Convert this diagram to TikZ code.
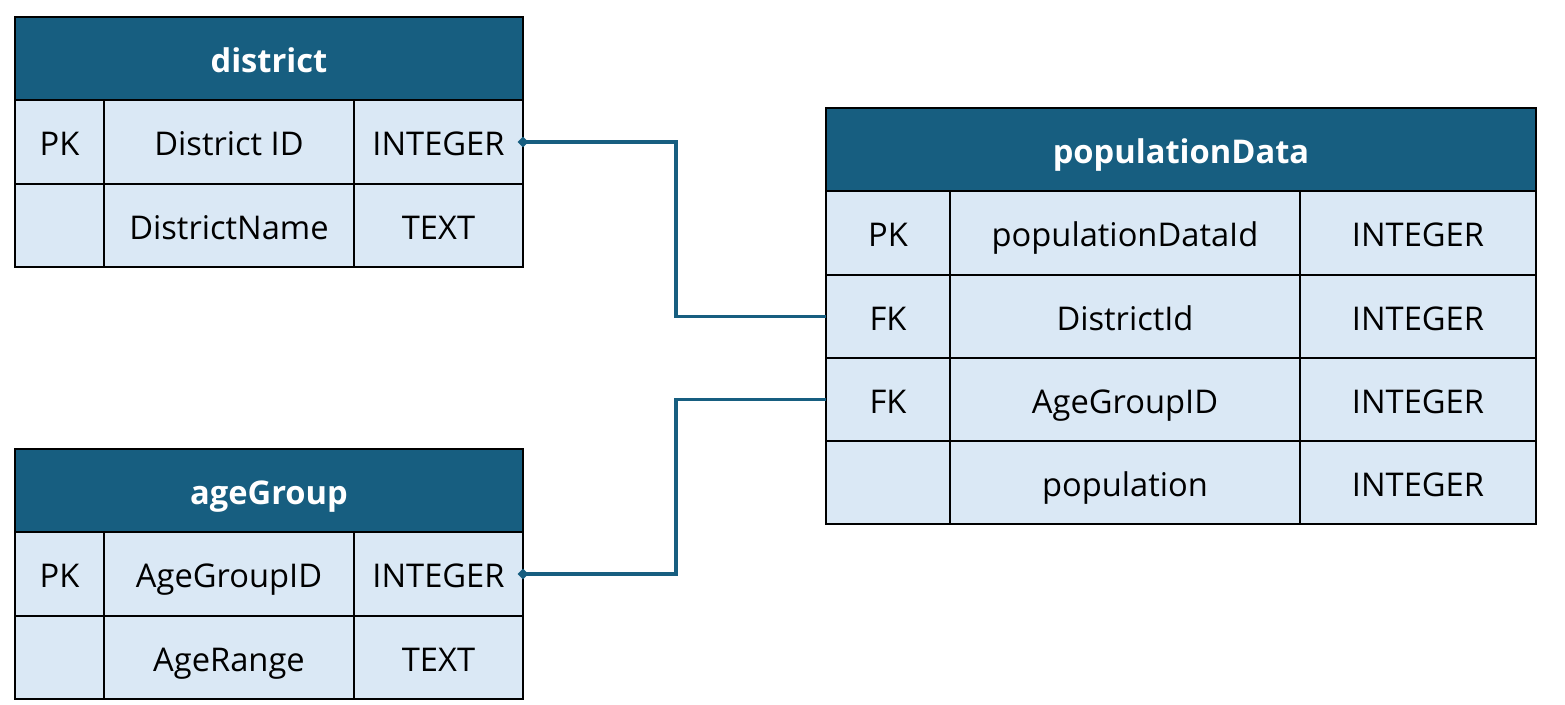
\documentclass[tikz,border=0pt]{standalone}
\usepackage{fontspec}
\setmainfont{Open Sans}
\usetikzlibrary{arrows.meta}
\definecolor{hdr}{HTML}{175E80}
\definecolor{rowfill}{HTML}{DAE8F5}
\newcommand\mycell[7]{\node[#6, minimum width={(#3-#1)*0.75pt}, minimum height={(#4-#2)*0.75pt}] (#5) at ({(#1+#3)/2},{(#2+#4)/2}) {#7};}
\begin{document}
\begin{tikzpicture}[x=0.75pt,y=-0.75pt,
  base/.style={draw=black, line width=1.4pt, inner sep=0pt, outer sep=0pt, text height=24pt, text depth=3.5pt, font=\fontsize{24.5}{30}\selectfont},
  head/.style={base, fill=hdr, text=white, font=\fontsize{24.5}{30}\selectfont\bfseries},
  cell/.style={base, fill=rowfill, text=black},
  conn/.style={draw=hdr, line width=2.4pt, {Diamond[length=8pt,width=8pt]}-, shorten <=-4pt}]
\useasboundingbox (0,0) rectangle (1565,704);
% district
\mycell{15}{17}{523}{100}{dh}{head}{district}
\mycell{15}{100}{104}{184}{d1k}{cell}{PK}
\mycell{104}{100}{354}{184}{d1n}{cell}{District ID}
\mycell{354}{100}{523}{184}{d1t}{cell}{INTEGER}
\mycell{15}{184}{104}{267}{d2k}{cell}{}
\mycell{104}{184}{354}{267}{d2n}{cell}{DistrictName}
\mycell{354}{184}{523}{267}{d2t}{cell}{TEXT}
% ageGroup
\mycell{15}{449}{523}{532}{ah}{head}{ageGroup}
\mycell{15}{532}{104}{616}{a1k}{cell}{PK}
\mycell{104}{532}{354}{616}{a1n}{cell}{AgeGroupID}
\mycell{354}{532}{523}{616}{a1t}{cell}{INTEGER}
\mycell{15}{616}{104}{699}{a2k}{cell}{}
\mycell{104}{616}{354}{699}{a2n}{cell}{AgeRange}
\mycell{354}{616}{523}{699}{a2t}{cell}{TEXT}
% populationData
\mycell{826}{108}{1536}{191}{ph}{head}{populationData}
\mycell{826}{191}{950}{275}{p1k}{cell}{PK}
\mycell{950}{191}{1300}{275}{p1n}{cell}{populationDataId}
\mycell{1300}{191}{1536}{275}{p1t}{cell}{INTEGER}
\mycell{826}{275}{950}{358}{p2k}{cell}{FK}
\mycell{950}{275}{1300}{358}{p2n}{cell}{DistrictId}
\mycell{1300}{275}{1536}{358}{p2t}{cell}{INTEGER}
\mycell{826}{358}{950}{441}{p3k}{cell}{FK}
\mycell{950}{358}{1300}{441}{p3n}{cell}{AgeGroupID}
\mycell{1300}{358}{1536}{441}{p3t}{cell}{INTEGER}
\mycell{826}{441}{950}{524}{p4k}{cell}{}
\mycell{950}{441}{1300}{524}{p4n}{cell}{population}
\mycell{1300}{441}{1536}{524}{p4t}{cell}{INTEGER}
% connectors
\coordinate (bend) at (676,0);
\draw[conn] (d1t.east) -- (d1t.east -| bend) |- (p2k.west);
\draw[conn] (a1t.east) -- (a1t.east -| bend) |- (p3k.west);
\end{tikzpicture}
\end{document}
